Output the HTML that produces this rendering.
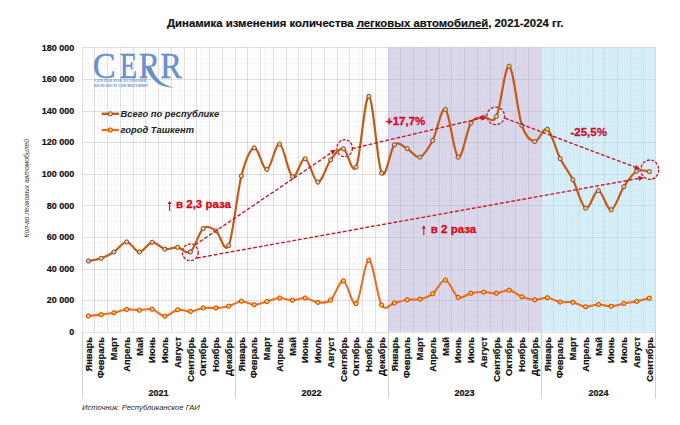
<!DOCTYPE html><html><head><meta charset="utf-8"><style>
*{margin:0;padding:0}
html,body{width:680px;height:425px;background:#fff;overflow:hidden}
svg{display:block}
text{font-family:"Liberation Sans",sans-serif}
.yl{font-size:9px;font-weight:bold;fill:#111;stroke:#111;stroke-width:0.2px}
.xl{font-size:9.3px;font-weight:bold;fill:#111;stroke:#111;stroke-width:0.2px}
.yr{font-size:9px;font-weight:bold;fill:#111;stroke:#111;stroke-width:0.2px}
.ann{font-size:11.5px;font-weight:bold;fill:#d80818;stroke:#d80818;stroke-width:0.3px}
.arr{font-weight:normal}
.leg{font-size:9.35px;font-weight:bold;font-style:italic;fill:#222}
.logo{font-family:"Liberation Serif",serif;font-size:36px;fill:#6b8fcc;stroke:#6b8fcc;stroke-width:0.45px}
.logos{font-family:"Liberation Serif",serif;font-size:4.6px;font-weight:bold;fill:#6b8fcc}
.title{font-size:11.35px;font-weight:bold;fill:#111;stroke:#111;stroke-width:0.2px}
.yt{font-size:6.8px;font-style:italic;fill:#444}
.src{font-size:7.65px;font-style:italic;fill:#262626}
</style></head><body><svg width="680" height="425" viewBox="0 0 680 425"><path d="M82.03,326.50H655.78M82.03,321.50H655.78M82.03,316.50H655.78M82.03,311.50H655.78M82.03,305.50H655.78M82.03,295.50H655.78M82.03,290.50H655.78M82.03,284.50H655.78M82.03,279.50H655.78M82.03,274.50H655.78M82.03,263.50H655.78M82.03,258.50H655.78M82.03,253.50H655.78M82.03,247.50H655.78M82.03,242.50H655.78M82.03,232.50H655.78M82.03,226.50H655.78M82.03,221.50H655.78M82.03,216.50H655.78M82.03,211.50H655.78M82.03,200.50H655.78M82.03,195.50H655.78M82.03,190.50H655.78M82.03,184.50H655.78M82.03,179.50H655.78M82.03,168.50H655.78M82.03,163.50H655.78M82.03,158.50H655.78M82.03,153.50H655.78M82.03,147.50H655.78M82.03,137.50H655.78M82.03,132.50H655.78M82.03,126.50H655.78M82.03,121.50H655.78M82.03,116.50H655.78M82.03,105.50H655.78M82.03,100.50H655.78M82.03,95.50H655.78M82.03,90.50H655.78M82.03,84.50H655.78M82.03,74.50H655.78M82.03,68.50H655.78M82.03,63.50H655.78M82.03,58.50H655.78M82.03,53.50H655.78M85.50,47.40V331.70M88.50,47.40V331.70M92.50,47.40V331.70M98.50,47.40V331.70M101.50,47.40V331.70M104.50,47.40V331.70M111.50,47.40V331.70M114.50,47.40V331.70M117.50,47.40V331.70M123.50,47.40V331.70M127.50,47.40V331.70M130.50,47.40V331.70M136.50,47.40V331.70M139.50,47.40V331.70M143.50,47.40V331.70M149.50,47.40V331.70M152.50,47.40V331.70M155.50,47.40V331.70M162.50,47.40V331.70M165.50,47.40V331.70M168.50,47.40V331.70M174.50,47.40V331.70M178.50,47.40V331.70M181.50,47.40V331.70M187.50,47.40V331.70M190.50,47.40V331.70M194.50,47.40V331.70M200.50,47.40V331.70M203.50,47.40V331.70M206.50,47.40V331.70M213.50,47.40V331.70M216.50,47.40V331.70M219.50,47.40V331.70M225.50,47.40V331.70M229.50,47.40V331.70M232.50,47.40V331.70M238.50,47.40V331.70M241.50,47.40V331.70M245.50,47.40V331.70M251.50,47.40V331.70M254.50,47.40V331.70M257.50,47.40V331.70M264.50,47.40V331.70M267.50,47.40V331.70M270.50,47.40V331.70M276.50,47.40V331.70M280.50,47.40V331.70M283.50,47.40V331.70M289.50,47.40V331.70M292.50,47.40V331.70M296.50,47.40V331.70M302.50,47.40V331.70M305.50,47.40V331.70M308.50,47.40V331.70M315.50,47.40V331.70M318.50,47.40V331.70M321.50,47.40V331.70M327.50,47.40V331.70M331.50,47.40V331.70M334.50,47.40V331.70M340.50,47.40V331.70M343.50,47.40V331.70M347.50,47.40V331.70M353.50,47.40V331.70M356.50,47.40V331.70M359.50,47.40V331.70M366.50,47.40V331.70M369.50,47.40V331.70M372.50,47.40V331.70M378.50,47.40V331.70M382.50,47.40V331.70M385.50,47.40V331.70M391.50,47.40V331.70M394.50,47.40V331.70M398.50,47.40V331.70M404.50,47.40V331.70M407.50,47.40V331.70M410.50,47.40V331.70M417.50,47.40V331.70M420.50,47.40V331.70M423.50,47.40V331.70M429.50,47.40V331.70M433.50,47.40V331.70M436.50,47.40V331.70M442.50,47.40V331.70M445.50,47.40V331.70M449.50,47.40V331.70M455.50,47.40V331.70M458.50,47.40V331.70M461.50,47.40V331.70M468.50,47.40V331.70M471.50,47.40V331.70M474.50,47.40V331.70M480.50,47.40V331.70M484.50,47.40V331.70M487.50,47.40V331.70M493.50,47.40V331.70M496.50,47.40V331.70M500.50,47.40V331.70M506.50,47.40V331.70M509.50,47.40V331.70M512.50,47.40V331.70M519.50,47.40V331.70M522.50,47.40V331.70M525.50,47.40V331.70M531.50,47.40V331.70M535.50,47.40V331.70M538.50,47.40V331.70M544.50,47.40V331.70M547.50,47.40V331.70M551.50,47.40V331.70M557.50,47.40V331.70M560.50,47.40V331.70M563.50,47.40V331.70M570.50,47.40V331.70M573.50,47.40V331.70M576.50,47.40V331.70M582.50,47.40V331.70M586.50,47.40V331.70M589.50,47.40V331.70M595.50,47.40V331.70M598.50,47.40V331.70M602.50,47.40V331.70M608.50,47.40V331.70M611.50,47.40V331.70M614.50,47.40V331.70M621.50,47.40V331.70M624.50,47.40V331.70M627.50,47.40V331.70M633.50,47.40V331.70M637.50,47.40V331.70M640.50,47.40V331.70M646.50,47.40V331.70M649.50,47.40V331.70M653.50,47.40V331.70" stroke="#000" stroke-opacity="0.022" stroke-width="1" fill="none"/>
<path d="M82.03,332.50H655.78M82.03,300.50H655.78M82.03,269.50H655.78M82.03,237.50H655.78M82.03,205.50H655.78M82.03,174.50H655.78M82.03,142.50H655.78M82.03,111.50H655.78M82.03,79.50H655.78M82.03,47.50H655.78M82.50,47.40V331.70M94.50,47.40V331.70M107.50,47.40V331.70M120.50,47.40V331.70M133.50,47.40V331.70M145.50,47.40V331.70M158.50,47.40V331.70M171.50,47.40V331.70M184.50,47.40V331.70M196.50,47.40V331.70M209.50,47.40V331.70M222.50,47.40V331.70M235.50,47.40V331.70M247.50,47.40V331.70M260.50,47.40V331.70M273.50,47.40V331.70M286.50,47.40V331.70M298.50,47.40V331.70M311.50,47.40V331.70M324.50,47.40V331.70M337.50,47.40V331.70M349.50,47.40V331.70M362.50,47.40V331.70M375.50,47.40V331.70M388.50,47.40V331.70M400.50,47.40V331.70M413.50,47.40V331.70M426.50,47.40V331.70M439.50,47.40V331.70M451.50,47.40V331.70M464.50,47.40V331.70M477.50,47.40V331.70M490.50,47.40V331.70M502.50,47.40V331.70M515.50,47.40V331.70M528.50,47.40V331.70M541.50,47.40V331.70M553.50,47.40V331.70M566.50,47.40V331.70M579.50,47.40V331.70M592.50,47.40V331.70M604.50,47.40V331.70M617.50,47.40V331.70M630.50,47.40V331.70M643.50,47.40V331.70M655.50,47.40V331.70" stroke="#000" stroke-opacity="0.12" stroke-width="1" fill="none"/>
<rect x="388.03" y="47.40" width="153.00" height="284.30" fill="rgb(177,168,213)" fill-opacity="0.45"/>
<rect x="541.03" y="47.40" width="114.95" height="284.30" fill="rgb(166,219,242)" fill-opacity="0.45"/>
<path d="M82.50,331.70V398.50M235.50,331.70V398.50M388.50,331.70V398.50M541.50,331.70V398.50M655.50,331.70V398.50" stroke="#d0d0d0" stroke-width="1" fill="none"/>
<text x="74.3" y="334.90" text-anchor="end" class="yl">0</text>
<text x="74.3" y="303.31" text-anchor="end" class="yl">20 000</text>
<text x="74.3" y="271.72" text-anchor="end" class="yl">40 000</text>
<text x="74.3" y="240.13" text-anchor="end" class="yl">60 000</text>
<text x="74.3" y="208.54" text-anchor="end" class="yl">80 000</text>
<text x="74.3" y="176.96" text-anchor="end" class="yl">100 000</text>
<text x="74.3" y="145.37" text-anchor="end" class="yl">120 000</text>
<text x="74.3" y="113.78" text-anchor="end" class="yl">140 000</text>
<text x="74.3" y="82.19" text-anchor="end" class="yl">160 000</text>
<text x="74.3" y="50.60" text-anchor="end" class="yl">180 000</text>
<text transform="translate(91.70,337) rotate(-90)" text-anchor="end" class="xl">Январь</text>
<text transform="translate(104.45,337) rotate(-90)" text-anchor="end" class="xl">Февраль</text>
<text transform="translate(117.20,337) rotate(-90)" text-anchor="end" class="xl">Март</text>
<text transform="translate(129.96,337) rotate(-90)" text-anchor="end" class="xl">Апрель</text>
<text transform="translate(142.71,337) rotate(-90)" text-anchor="end" class="xl">Май</text>
<text transform="translate(155.46,337) rotate(-90)" text-anchor="end" class="xl">Июнь</text>
<text transform="translate(168.21,337) rotate(-90)" text-anchor="end" class="xl">Июль</text>
<text transform="translate(180.96,337) rotate(-90)" text-anchor="end" class="xl">Август</text>
<text transform="translate(193.71,337) rotate(-90)" text-anchor="end" class="xl">Сентябрь</text>
<text transform="translate(206.46,337) rotate(-90)" text-anchor="end" class="xl">Октябрь</text>
<text transform="translate(219.21,337) rotate(-90)" text-anchor="end" class="xl">Ноябрь</text>
<text transform="translate(231.96,337) rotate(-90)" text-anchor="end" class="xl">Декабрь</text>
<text transform="translate(244.71,337) rotate(-90)" text-anchor="end" class="xl">Январь</text>
<text transform="translate(257.45,337) rotate(-90)" text-anchor="end" class="xl">Февраль</text>
<text transform="translate(270.20,337) rotate(-90)" text-anchor="end" class="xl">Март</text>
<text transform="translate(282.95,337) rotate(-90)" text-anchor="end" class="xl">Апрель</text>
<text transform="translate(295.70,337) rotate(-90)" text-anchor="end" class="xl">Май</text>
<text transform="translate(308.45,337) rotate(-90)" text-anchor="end" class="xl">Июнь</text>
<text transform="translate(321.20,337) rotate(-90)" text-anchor="end" class="xl">Июль</text>
<text transform="translate(333.95,337) rotate(-90)" text-anchor="end" class="xl">Август</text>
<text transform="translate(346.70,337) rotate(-90)" text-anchor="end" class="xl">Сентябрь</text>
<text transform="translate(359.45,337) rotate(-90)" text-anchor="end" class="xl">Октябрь</text>
<text transform="translate(372.20,337) rotate(-90)" text-anchor="end" class="xl">Ноябрь</text>
<text transform="translate(384.95,337) rotate(-90)" text-anchor="end" class="xl">Декабрь</text>
<text transform="translate(397.70,337) rotate(-90)" text-anchor="end" class="xl">Январь</text>
<text transform="translate(410.45,337) rotate(-90)" text-anchor="end" class="xl">Февраль</text>
<text transform="translate(423.20,337) rotate(-90)" text-anchor="end" class="xl">Март</text>
<text transform="translate(435.95,337) rotate(-90)" text-anchor="end" class="xl">Апрель</text>
<text transform="translate(448.70,337) rotate(-90)" text-anchor="end" class="xl">Май</text>
<text transform="translate(461.45,337) rotate(-90)" text-anchor="end" class="xl">Июнь</text>
<text transform="translate(474.20,337) rotate(-90)" text-anchor="end" class="xl">Июль</text>
<text transform="translate(486.95,337) rotate(-90)" text-anchor="end" class="xl">Август</text>
<text transform="translate(499.70,337) rotate(-90)" text-anchor="end" class="xl">Сентябрь</text>
<text transform="translate(512.45,337) rotate(-90)" text-anchor="end" class="xl">Октябрь</text>
<text transform="translate(525.20,337) rotate(-90)" text-anchor="end" class="xl">Ноябрь</text>
<text transform="translate(537.95,337) rotate(-90)" text-anchor="end" class="xl">Декабрь</text>
<text transform="translate(550.70,337) rotate(-90)" text-anchor="end" class="xl">Январь</text>
<text transform="translate(563.45,337) rotate(-90)" text-anchor="end" class="xl">Февраль</text>
<text transform="translate(576.20,337) rotate(-90)" text-anchor="end" class="xl">Март</text>
<text transform="translate(588.95,337) rotate(-90)" text-anchor="end" class="xl">Апрель</text>
<text transform="translate(601.70,337) rotate(-90)" text-anchor="end" class="xl">Май</text>
<text transform="translate(614.45,337) rotate(-90)" text-anchor="end" class="xl">Июнь</text>
<text transform="translate(627.20,337) rotate(-90)" text-anchor="end" class="xl">Июль</text>
<text transform="translate(639.95,337) rotate(-90)" text-anchor="end" class="xl">Август</text>
<text transform="translate(652.70,337) rotate(-90)" text-anchor="end" class="xl">Сентябрь</text>
<text x="158.53" y="396.2" text-anchor="middle" class="yr">2021</text>
<text x="311.53" y="396.2" text-anchor="middle" class="yr">2022</text>
<text x="464.53" y="396.2" text-anchor="middle" class="yr">2023</text>
<text x="598.40" y="396.2" text-anchor="middle" class="yr">2024</text>
<ellipse cx="190.30" cy="252.30" rx="8.00" ry="8.40" fill="#dde9f6" fill-opacity="0.6" stroke="#cc1420" stroke-width="1.3" stroke-dasharray="3,1.5"/>
<ellipse cx="344.60" cy="148.20" rx="7.80" ry="8.50" fill="#dde9f6" fill-opacity="0.6" stroke="#cc1420" stroke-width="1.3" stroke-dasharray="3,1.5"/>
<ellipse cx="495.70" cy="115.90" rx="8.80" ry="8.70" fill="#dde9f6" fill-opacity="0.6" stroke="#cc1420" stroke-width="1.3" stroke-dasharray="3,1.5"/>
<ellipse cx="649.80" cy="169.70" rx="8.90" ry="9.70" fill="#dde9f6" fill-opacity="0.6" stroke="#cc1420" stroke-width="1.3" stroke-dasharray="3,1.5"/>
<path d="M88.41,315.91 C90.53,315.69 96.91,315.17 101.16,314.64 C105.41,314.12 109.66,313.62 113.91,312.75 C118.16,311.88 122.41,309.85 126.66,309.43 C130.91,309.01 135.16,310.26 139.41,310.22 C143.66,310.18 147.91,308.19 152.16,309.19 C156.41,310.19 160.66,316.13 164.91,316.22 C169.16,316.31 173.41,310.54 177.66,309.75 C181.91,308.96 186.16,311.79 190.41,311.48 C194.66,311.18 198.91,308.52 203.16,307.93 C207.41,307.34 211.66,308.22 215.91,307.93 C220.16,307.64 224.41,307.31 228.66,306.19 C232.91,305.07 237.16,301.47 241.41,301.22 C245.66,300.97 249.91,304.64 254.16,304.69 C258.40,304.74 262.65,302.64 266.90,301.53 C271.15,300.43 275.40,298.27 279.65,298.06 C283.90,297.85 288.15,300.27 292.40,300.27 C296.65,300.27 300.90,297.70 305.15,298.06 C309.40,298.41 313.65,302.06 317.90,302.40 C322.15,302.74 326.40,303.69 330.65,300.11 C334.90,296.53 339.15,280.35 343.40,280.92 C347.65,281.49 351.90,306.96 356.15,303.51 C360.40,300.06 364.65,259.97 368.90,260.23 C373.15,260.49 377.40,297.97 381.65,305.09 C385.90,312.21 390.15,303.84 394.40,302.95 C398.65,302.07 402.90,300.43 407.15,299.80 C411.40,299.16 415.65,300.16 419.90,299.16 C424.15,298.16 428.40,296.98 432.65,293.79 C436.90,290.61 441.15,279.46 445.40,280.05 C449.65,280.64 453.90,295.15 458.15,297.35 C462.40,299.55 466.65,294.12 470.90,293.24 C475.15,292.36 479.40,292.06 483.65,292.06 C487.90,292.06 492.15,293.56 496.40,293.24 C500.65,292.92 504.90,289.57 509.15,290.16 C513.40,290.75 517.65,295.19 521.90,296.79 C526.15,298.40 530.40,299.64 534.65,299.80 C538.90,299.95 543.15,297.37 547.40,297.74 C551.65,298.11 555.90,301.24 560.15,302.01 C564.40,302.77 568.65,301.53 572.90,302.32 C577.15,303.11 581.40,306.39 585.65,306.74 C589.90,307.10 594.15,304.53 598.40,304.45 C602.65,304.38 606.90,306.43 611.15,306.27 C615.40,306.11 619.65,304.32 623.90,303.51 C628.15,302.69 632.40,302.26 636.65,301.37 C640.90,300.49 647.28,298.74 649.40,298.22" stroke="#ea6e28" stroke-width="2.1" fill="none" stroke-linejoin="round"/>
<path d="M88.41,261.02 C90.53,260.57 96.91,259.83 101.16,258.33 C105.41,256.84 109.66,254.76 113.91,252.03 C118.16,249.31 122.41,242.00 126.66,241.99 C130.91,241.97 135.16,251.89 139.41,251.94 C143.66,251.99 147.91,242.78 152.16,242.30 C156.41,241.83 160.66,248.25 164.91,249.10 C169.16,249.94 173.41,246.88 177.66,247.36 C181.91,247.83 186.16,255.07 190.41,251.94 C194.66,248.81 198.91,232.08 203.16,228.56 C207.41,225.05 211.66,228.01 215.91,230.85 C220.16,233.70 224.41,254.77 228.66,245.62 C232.91,236.47 237.16,192.26 241.41,175.97 C245.66,159.67 249.91,148.93 254.16,147.85 C258.40,146.77 262.65,170.12 266.90,169.49 C271.15,168.86 275.40,142.88 279.65,144.06 C283.90,145.25 288.15,174.15 292.40,176.60 C296.65,179.05 300.90,157.83 305.15,158.75 C309.40,159.67 313.65,181.94 317.90,182.13 C322.15,182.31 326.40,165.41 330.65,159.86 C334.90,154.30 339.15,147.59 343.40,148.80 C347.65,150.01 351.90,175.86 356.15,167.12 C360.40,158.38 364.65,95.36 368.90,96.36 C373.15,97.36 377.40,165.04 381.65,173.12 C385.90,181.21 390.15,148.93 394.40,144.85 C398.65,140.77 402.90,146.59 407.15,148.64 C411.40,150.70 415.65,158.51 419.90,157.17 C424.15,155.83 428.40,148.54 432.65,140.59 C436.90,132.64 441.15,106.71 445.40,109.47 C449.65,112.24 453.90,154.91 458.15,157.17 C462.40,159.44 466.65,129.72 470.90,123.06 C475.15,116.40 479.40,118.32 483.65,117.21 C487.90,116.11 492.15,124.92 496.40,116.42 C500.65,107.92 504.90,64.69 509.15,66.20 C513.40,67.70 517.65,112.87 521.90,125.42 C526.15,137.98 530.40,140.90 534.65,141.53 C538.90,142.17 543.15,126.37 547.40,129.22 C551.65,132.06 555.90,150.17 560.15,158.59 C564.40,167.02 568.65,171.49 572.90,179.76 C577.15,188.02 581.40,206.37 585.65,208.19 C589.90,210.00 594.15,190.39 598.40,190.66 C602.65,190.92 606.90,210.42 611.15,209.77 C615.40,209.11 619.65,193.14 623.90,186.71 C628.15,180.27 632.40,173.65 636.65,171.15 C640.90,168.65 647.28,171.61 649.40,171.70" stroke="#c55a11" stroke-width="2.2" fill="none" stroke-linejoin="round"/>
<circle cx="88.41" cy="315.91" r="2.1" fill="#ffd500" stroke="#d0301a" stroke-width="1"/>
<circle cx="101.16" cy="314.64" r="2.1" fill="#ffd500" stroke="#d0301a" stroke-width="1"/>
<circle cx="113.91" cy="312.75" r="2.1" fill="#ffd500" stroke="#d0301a" stroke-width="1"/>
<circle cx="126.66" cy="309.43" r="2.1" fill="#ffd500" stroke="#d0301a" stroke-width="1"/>
<circle cx="139.41" cy="310.22" r="2.1" fill="#ffd500" stroke="#d0301a" stroke-width="1"/>
<circle cx="152.16" cy="309.19" r="2.1" fill="#ffd500" stroke="#d0301a" stroke-width="1"/>
<circle cx="164.91" cy="316.22" r="2.1" fill="#ffd500" stroke="#d0301a" stroke-width="1"/>
<circle cx="177.66" cy="309.75" r="2.1" fill="#ffd500" stroke="#d0301a" stroke-width="1"/>
<circle cx="190.41" cy="311.48" r="2.1" fill="#ffd500" stroke="#d0301a" stroke-width="1"/>
<circle cx="203.16" cy="307.93" r="2.1" fill="#ffd500" stroke="#d0301a" stroke-width="1"/>
<circle cx="215.91" cy="307.93" r="2.1" fill="#ffd500" stroke="#d0301a" stroke-width="1"/>
<circle cx="228.66" cy="306.19" r="2.1" fill="#ffd500" stroke="#d0301a" stroke-width="1"/>
<circle cx="241.41" cy="301.22" r="2.1" fill="#ffd500" stroke="#d0301a" stroke-width="1"/>
<circle cx="254.16" cy="304.69" r="2.1" fill="#ffd500" stroke="#d0301a" stroke-width="1"/>
<circle cx="266.90" cy="301.53" r="2.1" fill="#ffd500" stroke="#d0301a" stroke-width="1"/>
<circle cx="279.65" cy="298.06" r="2.1" fill="#ffd500" stroke="#d0301a" stroke-width="1"/>
<circle cx="292.40" cy="300.27" r="2.1" fill="#ffd500" stroke="#d0301a" stroke-width="1"/>
<circle cx="305.15" cy="298.06" r="2.1" fill="#ffd500" stroke="#d0301a" stroke-width="1"/>
<circle cx="317.90" cy="302.40" r="2.1" fill="#ffd500" stroke="#d0301a" stroke-width="1"/>
<circle cx="330.65" cy="300.11" r="2.1" fill="#ffd500" stroke="#d0301a" stroke-width="1"/>
<circle cx="343.40" cy="280.92" r="2.1" fill="#ffd500" stroke="#d0301a" stroke-width="1"/>
<circle cx="356.15" cy="303.51" r="2.1" fill="#ffd500" stroke="#d0301a" stroke-width="1"/>
<circle cx="368.90" cy="260.23" r="2.1" fill="#ffd500" stroke="#d0301a" stroke-width="1"/>
<circle cx="381.65" cy="305.09" r="2.1" fill="#ffd500" stroke="#d0301a" stroke-width="1"/>
<circle cx="394.40" cy="302.95" r="2.1" fill="#ffd500" stroke="#d0301a" stroke-width="1"/>
<circle cx="407.15" cy="299.80" r="2.1" fill="#ffd500" stroke="#d0301a" stroke-width="1"/>
<circle cx="419.90" cy="299.16" r="2.1" fill="#ffd500" stroke="#d0301a" stroke-width="1"/>
<circle cx="432.65" cy="293.79" r="2.1" fill="#ffd500" stroke="#d0301a" stroke-width="1"/>
<circle cx="445.40" cy="280.05" r="2.1" fill="#ffd500" stroke="#d0301a" stroke-width="1"/>
<circle cx="458.15" cy="297.35" r="2.1" fill="#ffd500" stroke="#d0301a" stroke-width="1"/>
<circle cx="470.90" cy="293.24" r="2.1" fill="#ffd500" stroke="#d0301a" stroke-width="1"/>
<circle cx="483.65" cy="292.06" r="2.1" fill="#ffd500" stroke="#d0301a" stroke-width="1"/>
<circle cx="496.40" cy="293.24" r="2.1" fill="#ffd500" stroke="#d0301a" stroke-width="1"/>
<circle cx="509.15" cy="290.16" r="2.1" fill="#ffd500" stroke="#d0301a" stroke-width="1"/>
<circle cx="521.90" cy="296.79" r="2.1" fill="#ffd500" stroke="#d0301a" stroke-width="1"/>
<circle cx="534.65" cy="299.80" r="2.1" fill="#ffd500" stroke="#d0301a" stroke-width="1"/>
<circle cx="547.40" cy="297.74" r="2.1" fill="#ffd500" stroke="#d0301a" stroke-width="1"/>
<circle cx="560.15" cy="302.01" r="2.1" fill="#ffd500" stroke="#d0301a" stroke-width="1"/>
<circle cx="572.90" cy="302.32" r="2.1" fill="#ffd500" stroke="#d0301a" stroke-width="1"/>
<circle cx="585.65" cy="306.74" r="2.1" fill="#ffd500" stroke="#d0301a" stroke-width="1"/>
<circle cx="598.40" cy="304.45" r="2.1" fill="#ffd500" stroke="#d0301a" stroke-width="1"/>
<circle cx="611.15" cy="306.27" r="2.1" fill="#ffd500" stroke="#d0301a" stroke-width="1"/>
<circle cx="623.90" cy="303.51" r="2.1" fill="#ffd500" stroke="#d0301a" stroke-width="1"/>
<circle cx="636.65" cy="301.37" r="2.1" fill="#ffd500" stroke="#d0301a" stroke-width="1"/>
<circle cx="649.40" cy="298.22" r="2.1" fill="#ffd500" stroke="#d0301a" stroke-width="1"/>
<circle cx="88.41" cy="261.02" r="2.1" fill="#ffd500" stroke="#7040a8" stroke-width="1"/>
<circle cx="101.16" cy="258.33" r="2.1" fill="#ffd500" stroke="#7040a8" stroke-width="1"/>
<circle cx="113.91" cy="252.03" r="2.1" fill="#ffd500" stroke="#7040a8" stroke-width="1"/>
<circle cx="126.66" cy="241.99" r="2.1" fill="#ffd500" stroke="#7040a8" stroke-width="1"/>
<circle cx="139.41" cy="251.94" r="2.1" fill="#ffd500" stroke="#7040a8" stroke-width="1"/>
<circle cx="152.16" cy="242.30" r="2.1" fill="#ffd500" stroke="#7040a8" stroke-width="1"/>
<circle cx="164.91" cy="249.10" r="2.1" fill="#ffd500" stroke="#7040a8" stroke-width="1"/>
<circle cx="177.66" cy="247.36" r="2.1" fill="#ffd500" stroke="#7040a8" stroke-width="1"/>
<circle cx="190.41" cy="251.94" r="2.1" fill="#ffd500" stroke="#7040a8" stroke-width="1"/>
<circle cx="203.16" cy="228.56" r="2.1" fill="#ffd500" stroke="#7040a8" stroke-width="1"/>
<circle cx="215.91" cy="230.85" r="2.1" fill="#ffd500" stroke="#7040a8" stroke-width="1"/>
<circle cx="228.66" cy="245.62" r="2.1" fill="#ffd500" stroke="#7040a8" stroke-width="1"/>
<circle cx="241.41" cy="175.97" r="2.1" fill="#ffd500" stroke="#7040a8" stroke-width="1"/>
<circle cx="254.16" cy="147.85" r="2.1" fill="#ffd500" stroke="#7040a8" stroke-width="1"/>
<circle cx="266.90" cy="169.49" r="2.1" fill="#ffd500" stroke="#7040a8" stroke-width="1"/>
<circle cx="279.65" cy="144.06" r="2.1" fill="#ffd500" stroke="#7040a8" stroke-width="1"/>
<circle cx="292.40" cy="176.60" r="2.1" fill="#ffd500" stroke="#7040a8" stroke-width="1"/>
<circle cx="305.15" cy="158.75" r="2.1" fill="#ffd500" stroke="#7040a8" stroke-width="1"/>
<circle cx="317.90" cy="182.13" r="2.1" fill="#ffd500" stroke="#7040a8" stroke-width="1"/>
<circle cx="330.65" cy="159.86" r="2.1" fill="#ffd500" stroke="#7040a8" stroke-width="1"/>
<circle cx="343.40" cy="148.80" r="2.1" fill="#ffd500" stroke="#7040a8" stroke-width="1"/>
<circle cx="356.15" cy="167.12" r="2.1" fill="#ffd500" stroke="#7040a8" stroke-width="1"/>
<circle cx="368.90" cy="96.36" r="2.1" fill="#ffd500" stroke="#7040a8" stroke-width="1"/>
<circle cx="381.65" cy="173.12" r="2.1" fill="#ffd500" stroke="#7040a8" stroke-width="1"/>
<circle cx="394.40" cy="144.85" r="2.1" fill="#ffd500" stroke="#7040a8" stroke-width="1"/>
<circle cx="407.15" cy="148.64" r="2.1" fill="#ffd500" stroke="#7040a8" stroke-width="1"/>
<circle cx="419.90" cy="157.17" r="2.1" fill="#ffd500" stroke="#7040a8" stroke-width="1"/>
<circle cx="432.65" cy="140.59" r="2.1" fill="#ffd500" stroke="#7040a8" stroke-width="1"/>
<circle cx="445.40" cy="109.47" r="2.1" fill="#ffd500" stroke="#7040a8" stroke-width="1"/>
<circle cx="458.15" cy="157.17" r="2.1" fill="#ffd500" stroke="#7040a8" stroke-width="1"/>
<circle cx="470.90" cy="123.06" r="2.1" fill="#ffd500" stroke="#7040a8" stroke-width="1"/>
<circle cx="483.65" cy="117.21" r="2.1" fill="#ffd500" stroke="#7040a8" stroke-width="1"/>
<circle cx="496.40" cy="116.42" r="2.1" fill="#ffd500" stroke="#7040a8" stroke-width="1"/>
<circle cx="509.15" cy="66.20" r="2.1" fill="#ffd500" stroke="#7040a8" stroke-width="1"/>
<circle cx="521.90" cy="125.42" r="2.1" fill="#ffd500" stroke="#7040a8" stroke-width="1"/>
<circle cx="534.65" cy="141.53" r="2.1" fill="#ffd500" stroke="#7040a8" stroke-width="1"/>
<circle cx="547.40" cy="129.22" r="2.1" fill="#ffd500" stroke="#7040a8" stroke-width="1"/>
<circle cx="560.15" cy="158.59" r="2.1" fill="#ffd500" stroke="#7040a8" stroke-width="1"/>
<circle cx="572.90" cy="179.76" r="2.1" fill="#ffd500" stroke="#7040a8" stroke-width="1"/>
<circle cx="585.65" cy="208.19" r="2.1" fill="#ffd500" stroke="#7040a8" stroke-width="1"/>
<circle cx="598.40" cy="190.66" r="2.1" fill="#ffd500" stroke="#7040a8" stroke-width="1"/>
<circle cx="611.15" cy="209.77" r="2.1" fill="#ffd500" stroke="#7040a8" stroke-width="1"/>
<circle cx="623.90" cy="186.71" r="2.1" fill="#ffd500" stroke="#7040a8" stroke-width="1"/>
<circle cx="636.65" cy="171.15" r="2.1" fill="#ffd500" stroke="#7040a8" stroke-width="1"/>
<circle cx="649.40" cy="171.70" r="2.1" fill="#ffd500" stroke="#7040a8" stroke-width="1"/>
<path d="M195.00,245.00L331.44,152.68" stroke="#cc1420" stroke-width="1.35" stroke-dasharray="3.8,1.9" fill="none"/>
<path d="M336.00,149.60L332.90,154.84L329.99,150.53Z" fill="#cc1420"/>
<path d="M197.00,258.00L638.59,178.47" stroke="#cc1420" stroke-width="1.35" stroke-dasharray="3.8,1.9" fill="none"/>
<path d="M644.00,177.50L639.05,181.03L638.13,175.92Z" fill="#cc1420"/>
<path d="M352.00,148.60L480.85,118.26" stroke="#cc1420" stroke-width="1.35" stroke-dasharray="3.8,1.9" fill="none"/>
<path d="M486.20,117.00L481.44,120.79L480.25,115.73Z" fill="#cc1420"/>
<path d="M505.00,118.20L635.05,167.07" stroke="#cc1420" stroke-width="1.35" stroke-dasharray="3.8,1.9" fill="none"/>
<path d="M640.20,169.00L634.14,169.50L635.97,164.63Z" fill="#cc1420"/>
<text x="176.0" y="207.9" class="ann">в 2,3 раза</text>
<path d="M169.6,203V211" stroke="#d80818" stroke-width="1.1"/><path d="M169.6,200.8L171.5,204H167.7Z" fill="#d80818"/>
<text x="430.8" y="232.6" class="ann">в 2 раза</text>
<path d="M423.8,227V235" stroke="#d80818" stroke-width="1.1"/><path d="M423.8,225.2L425.7,228.4H421.9Z" fill="#d80818"/>
<text x="386" y="125.1" class="ann">+17,7%</text>
<text x="570.5" y="135.8" class="ann" style="fill:#c4142e;stroke:#c4142e">-25,5%</text>
<path d="M101.7,113.8H119" stroke="#c55a11" stroke-width="2.4"/>
<circle cx="110.3" cy="113.8" r="2.1" fill="#ffd500" stroke="#7040a8" stroke-width="1"/>
<path d="M101.7,130H119" stroke="#ea6e28" stroke-width="2.3"/>
<circle cx="110.3" cy="130" r="2.1" fill="#ffd500" stroke="#d0301a" stroke-width="1"/>
<text x="120.6" y="116.8" class="leg">Всего по республике</text>
<text x="120.6" y="132.8" class="leg">город Ташкент</text>
<clipPath id="r1c"><rect x="130" y="40" width="35" height="26.5"/><rect x="130" y="66" width="17.3" height="14"/></clipPath>
<text x="0" y="0" class="logo" transform="translate(92.80,77.5) scale(0.950,1)">C</text>
<text x="0" y="0" class="logo" transform="translate(119.80,77.5) scale(0.790,1)">E</text>
<g clip-path="url(#r1c)">
<text x="0" y="0" class="logo" transform="translate(138.80,77.5) scale(0.880,1)">R</text>
</g>
<text x="0" y="0" class="logo" transform="translate(160.20,77.5) scale(0.900,1)">R</text>
<path d="M145.3,66.5 C148.3,73.5 152.8,79.8 157.8,83.5 C162,86.3 167,87.7 174.2,87.6 C168.2,86.4 163.8,84.4 160.3,81.3 C156,77.3 153,72 150.8,66 Z" fill="#6b8fcc"/>
<text x="94" y="82.3" class="logos" textLength="54.3" lengthAdjust="spacingAndGlyphs">CENTER FOR ECONOMIC</text>
<text x="94" y="86.6" class="logos" textLength="54" lengthAdjust="spacingAndGlyphs">RESEARCH AND REFORMS</text>
<text x="167" y="26.8" class="title">Динамика изменения количества легковых автомобилей, 2021-2024 гг.</text>
<rect x="356.4" y="27.9" width="131.9" height="1.1" fill="#111"/>
<text transform="translate(29.2,188.2) rotate(-90)" text-anchor="middle" class="yt">Кол-во легковых автомобилей</text>
<text x="82" y="410.4" class="src">Источник: Республиканское ГАИ</text></svg></body></html>
